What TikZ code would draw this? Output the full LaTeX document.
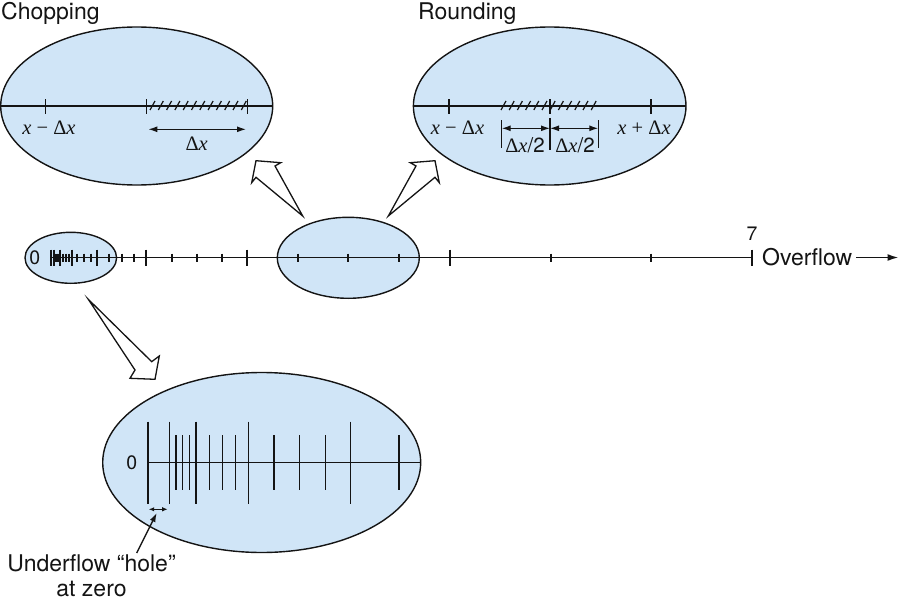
\documentclass[tikz,border=0pt]{standalone}
\usepackage{fontspec}
\setmainfont{Liberation Serif}
\newfontfamily\heros{TeX Gyre Heros}
\usetikzlibrary{arrows.meta}
\definecolor{lblue}{RGB}{208,229,247}
\definecolor{ink}{RGB}{20,20,20}
\newcommand{\ix}{\textit{x}}
\begin{document}
\begin{tikzpicture}[x=1pt,y=-1pt,
  bubble/.style={draw=ink, fill=lblue, line width=1.4pt},
  axisline/.style={draw=ink, line width=1.6pt},
  ticky/.style={draw=ink, line width=1.5pt},
  hatchy/.style={draw=ink, line width=1.2pt},
  hollow/.style={draw=ink, fill=white, line width=1.3pt, line join=miter},
  sanslabel/.style={font=\heros\fontsize{23}{27}\selectfont, inner sep=0pt, text=ink},
  numlabel/.style={font=\heros\fontsize{19.5}{23}\selectfont, inner sep=0pt, text=ink},
  mathlabel/.style={font=\fontsize{20.5}{24}\selectfont, inner sep=0pt, text=ink},
  dimarrow/.style={draw=ink, line width=1.3pt, {Latex[length=9pt,width=6pt]}-{Latex[length=9pt,width=6pt]}},
  smallarrow/.style={draw=ink, line width=1.1pt, {Latex[length=5.5pt,width=4.5pt]}-{Latex[length=5.5pt,width=4.5pt]}},
  pointer/.style={draw=ink, line width=1.3pt, -{Latex[length=9pt,width=6pt]}}
]
\useasboundingbox (0,0) rectangle (900,602);

% ---------- ellipses ----------
\draw[bubble] (136.7,106) ellipse [x radius=136pt, y radius=79pt];
\draw[bubble] (549.7,106) ellipse [x radius=136.3pt, y radius=79pt];
\draw[bubble] (348.3,257.8) ellipse [x radius=71pt, y radius=40.5pt];
\draw[bubble] (70.8,257.8) ellipse [x radius=45.8pt, y radius=25.5pt];
\draw[bubble] (261.7,462.5) ellipse [x radius=159pt, y radius=90pt];

% ---------- hollow arrows ----------
\coordinate (tA) at (302.7,216);
\coordinate (tB) at (388.3,216);
\coordinate (tC) at (88.3,299.3);
\draw[hollow] (tA) -- (275,166) -- (280.7,162.7) -- (256,160.7) -- (251.7,182.7) -- (256,177.3) -- cycle;
\draw[hollow] (tB) -- (416,166) -- (410.3,162.7) -- (435,160.7) -- (439.3,182.7) -- (435,177.3) -- cycle;
\draw[hollow] (tC) -- (135,370) -- (130,378.3) -- (155,379.3) -- (159.3,356) -- (151.7,361.7) -- cycle;

% ---------- titles ----------
\node[sanslabel, anchor=base west] (chop) at (1,19.5) {Chopping};
\node[sanslabel, anchor=base west] (round) at (418,19.5) {Rounding};

% ---------- chopping ellipse content ----------
\draw[axisline] (0.8,106) -- (272.6,106);
\foreach \xx in {45.7,146.7,247.3} \draw[ticky] (\xx,99) -- (\xx,114);
\foreach \i in {0,...,11} \draw[hatchy] ({150+\i*8.3},110) -- ++(5,-9);
\coordinate (ca) at (148.3,129.3);
\coordinate (cb) at (246,129.3);
\draw[dimarrow] (ca) -- (cb);
\node[mathlabel] (cl1) at (49,128) {\ix\ − Δ\ix};
\node[mathlabel] (cl2) at (196.7,144) {Δ\ix};

% ---------- rounding ellipse content ----------
\draw[axisline] (413.5,106) -- (685.9,106);
\foreach \xx in {449,550,651} \draw[ticky] (\xx,99) -- (\xx,114);
\foreach \i in {0,...,11} \draw[hatchy] ({501+\i*8.2},110) -- ++(5,-9);
\draw[ticky] (501.7,120) -- (501.7,148);
\draw[ticky] (550,118) -- (550,150);
\draw[ticky] (598.3,120) -- (598.3,148);
\coordinate (ra) at (501.7,128.3);
\coordinate (rm) at (550,128.3);
\coordinate (rb) at (598.3,128.3);
\draw[dimarrow] (ra) -- (rm);
\draw[dimarrow] (rm) -- (rb);
\node[mathlabel] (rl1) at (457.5,128) {\ix\ − Δ\ix};
\node[mathlabel] (rl2) at (644,128) {\ix\ + Δ\ix};
\node[mathlabel] (rl3) at (525,145.7) {Δ\ix{\heros /2}};
\node[mathlabel] (rl4) at (575,145.7) {Δ\ix{\heros /2}};

% ---------- main axis ----------
\draw[axisline] (51,257.5) -- (752,257.5);
\foreach \xx in {51,54,60,72,97,146,247,450,752} \draw[ticky] (\xx,249.5) -- (\xx,265.5);
\foreach \xx in {55.5,57,58.5,63,66,69,77,84,91,109,122,134,172,197,222,298,348,399,551,651}
  \draw[ticky] (\xx,253.5) -- (\xx,261.5);
\node[numlabel] (zero) at (34.7,257.5) {0};
\node[numlabel, anchor=base] (seven) at (752,240) {7};
\node[sanslabel, anchor=base west] (ovf) at (762,265.5) {Overflow};
\coordinate (oa) at (856,257.5);
\coordinate (ob) at (898.5,257.5);
\draw[axisline, -{Latex[length=11pt,width=7pt]}] (oa) -- (ob);

% ---------- bottom magnified ellipse ----------
\draw[axisline] (148,462.3) -- (420.6,462.3);
\foreach \xx in {148,169.3,196,248.7,350.7} \draw[ticky] (\xx,421.5) -- (\xx,504);
\foreach \xx in {176,182.7,189.3,209.3,222.7,235.7,274,299.7,325.3,399} \draw[ticky] (\xx,435) -- (\xx,490);
\node[numlabel] (zero2) at (131.7,462.3) {0};
\coordinate (ha) at (148.7,509.3);
\coordinate (hb) at (167.7,509.3);
\draw[smallarrow] (ha) -- (hb);

% ---------- underflow label ----------
\node[sanslabel, anchor=base] (under1) at (91.5,571.5) {Underflow “hole”};
\node[sanslabel, anchor=base] (under2) at (91.5,596.5) {at zero};
\coordinate (pa) at (136.7,553);
\coordinate (pb) at (156.7,513);
\draw[pointer] (pa) -- (pb);
\end{tikzpicture}
\end{document}
